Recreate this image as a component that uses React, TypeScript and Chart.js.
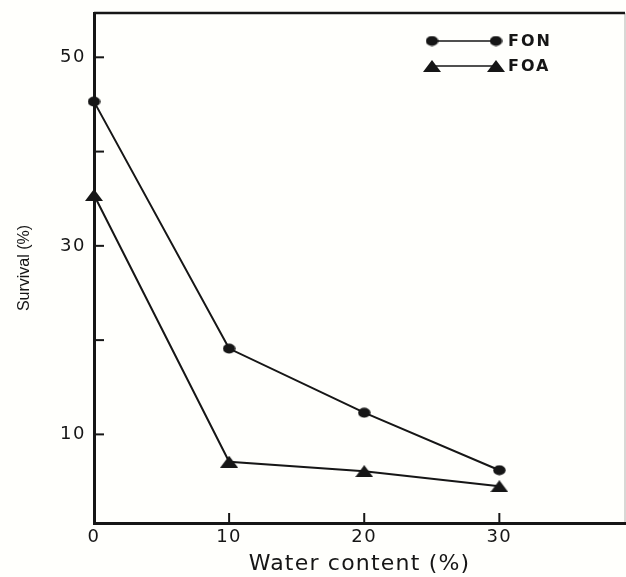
import React, { useEffect, useRef } from "react";
import { Chart, registerables } from "chart.js";

Chart.register(...registerables);

const waterContent = [0, 10, 20, 30];
const fonSurvival = [45.3, 19.1, 12.3, 6.2];
const foaSurvival = [35.4, 7.1, 6.1, 4.5];
const xTickValues = [0, 10, 20, 30];
const yTickValues = [10, 20, 30, 40, 50];
const yLabelledTicks = [10, 30, 50];
const seriesNames = ["FON", "FOA"];

const INK = "#161616";
const FONT = "'DejaVu Sans', 'Liberation Sans', Arial, sans-serif";

function makeEllipse(): HTMLCanvasElement {
  const c = document.createElement("canvas");
  c.width = 13;
  c.height = 11;
  const g = c.getContext("2d")!;
  g.fillStyle = INK;
  g.beginPath();
  g.ellipse(6.5, 5.5, 6.2, 5.0, 0, 0, Math.PI * 2);
  g.fill();
  return c;
}

function makeTriangle(): HTMLCanvasElement {
  const c = document.createElement("canvas");
  c.width = 18;
  c.height = 12;
  const g = c.getContext("2d")!;
  g.fillStyle = INK;
  g.beginPath();
  g.moveTo(9, 0);
  g.lineTo(18, 12);
  g.lineTo(0, 12);
  g.closePath();
  g.fill();
  return c;
}

const wideText = {
  id: "wideText",
  afterUpdate(chart: any) {
    const ctx = chart.ctx;
    ["x", "y"].forEach((id) => {
      const s = chart.scales[id];
      if (!s || s.__wrapped) return;
      const origLabels = s.drawLabels.bind(s);
      s.drawLabels = (area: any) => {
        ctx.save();
        (ctx as any).letterSpacing = "1.5px";
        origLabels(area);
        ctx.restore();
      };
      if (id === "x") {
        const origTitle = s.drawTitle.bind(s);
        s.drawTitle = () => {
          ctx.save();
          (ctx as any).letterSpacing = "1.2px";
          origTitle();
          ctx.restore();
        };
      }
      s.__wrapped = true;
    });
  },
};

const inwardTicks = {
  id: "inwardTicks",
  afterDraw(chart: any) {
    const { ctx, chartArea, scales } = chart;
    ctx.save();
    ctx.strokeStyle = INK;
    ctx.lineWidth = 2;
    yTickValues.forEach((v) => {
      const y = scales.y.getPixelForValue(v);
      ctx.beginPath();
      ctx.moveTo(chartArea.left, y);
      ctx.lineTo(chartArea.left + 10, y);
      ctx.stroke();
    });
    xTickValues.forEach((v) => {
      if (v === 0) return;
      const x = scales.x.getPixelForValue(v);
      ctx.beginPath();
      ctx.moveTo(x, chartArea.bottom);
      ctx.lineTo(x, chartArea.bottom - 10);
      ctx.stroke();
    });
    ctx.lineWidth = 2.5;
    ctx.beginPath();
    ctx.moveTo(chartArea.left, chartArea.top);
    ctx.lineTo(chartArea.right, chartArea.top);
    ctx.stroke();
    ctx.strokeStyle = "rgba(40,40,40,0.3)";
    ctx.lineWidth = 1.2;
    ctx.beginPath();
    ctx.moveTo(chartArea.right, chartArea.top);
    ctx.lineTo(chartArea.right, chartArea.bottom);
    ctx.stroke();
    ctx.restore();
  },
};

function makeLegend(markers: HTMLCanvasElement[]) {
  return {
    id: "customLegend",
    afterDraw(chart: any) {
      const { ctx } = chart;
      ctx.save();
      const rowsY = [41, 66];
      rowsY.forEach((y, i) => {
        const x1 = 432;
        const x2 = 496;
        ctx.strokeStyle = INK;
        ctx.fillStyle = INK;
        ctx.lineWidth = 1.6;
        ctx.beginPath();
        ctx.moveTo(x1, y);
        ctx.lineTo(x2, y);
        ctx.stroke();
        const m = markers[i];
        [x1, x2].forEach((x) => {
          ctx.drawImage(m, x - m.width / 2, y - m.height / 2);
        });
        ctx.font = "bold 16px " + FONT;
        (ctx as any).letterSpacing = "2px";
        ctx.textBaseline = "middle";
        ctx.textAlign = "left";
        ctx.fillText(seriesNames[i], 508, y + 1);
      });
      ctx.restore();
    },
  };
}

export default function App() {
  const canvasRef = useRef<HTMLCanvasElement | null>(null);

  useEffect(() => {
    document.body.style.margin = "0";
    document.body.style.background = "#fffffc";
    if (!canvasRef.current) return;
    const ellipse = makeEllipse();
    const triangle = makeTriangle();
    const chart = new Chart(canvasRef.current, {
      type: "line",
      data: {
        datasets: [
          {
            label: seriesNames[0],
            data: waterContent.map((x, i) => ({ x, y: fonSurvival[i] })),
            borderColor: INK,
            backgroundColor: INK,
            borderWidth: 2,
            pointStyle: ellipse as any,
            pointRadius: 6,
            tension: 0,
          },
          {
            label: seriesNames[1],
            data: waterContent.map((x, i) => ({ x, y: foaSurvival[i] })),
            borderColor: INK,
            backgroundColor: INK,
            borderWidth: 2,
            pointStyle: triangle as any,
            pointRadius: 8,
            tension: 0,
          },
        ],
      },
      options: {
        responsive: false,
        animation: false,
        clip: false,
        layout: { autoPadding: false, padding: { top: 13, right: 1, left: 0, bottom: 0 } },
        plugins: {
          legend: { display: false },
          tooltip: { enabled: false },
        },
        scales: {
          x: {
            type: "linear",
            min: 0,
            max: 39.3,
            afterBuildTicks: (scale: any) => {
              scale.ticks = xTickValues.map((value) => ({ value }));
            },
            afterFit: (scale: any) => {
              scale.height = 54;
              scale.paddingLeft = 0;
              scale.paddingRight = 0;
            },
            grid: { display: false, drawTicks: false },
            border: { display: true, color: INK, width: 3 },
            ticks: {
              color: INK,
              padding: 4,
              maxRotation: 0,
              font: { family: FONT, size: 18 },
            },
            title: {
              display: true,
              text: "Water content (%)",
              color: INK,
              padding: { top: 1, bottom: 0 },
              font: { family: FONT, size: 22 },
            },
          },
          y: {
            type: "linear",
            min: 0.6,
            max: 54.7,
            afterBuildTicks: (scale: any) => {
              scale.ticks = yTickValues.map((value) => ({ value }));
            },
            afterFit: (scale: any) => {
              scale.width = 94;
              scale.paddingTop = 0;
              scale.paddingBottom = 0;
            },
            grid: { display: false, drawTicks: false },
            border: { display: true, color: INK, width: 3 },
            ticks: {
              color: INK,
              padding: 8,
              callback: (v: any) => (yLabelledTicks.includes(Number(v)) ? String(v) : ""),
              font: { family: FONT, size: 18 },
            },
            title: {
              display: true,
              text: "Survival (%)",
              color: INK,
              padding: { top: 15, bottom: 0 },
              font: { family: "'Liberation Sans', Arial, sans-serif", size: 16 },
            },
          },
        },
      },
      plugins: [wideText, inwardTicks, makeLegend([ellipse, triangle])],
    });
    return () => chart.destroy();
  }, []);

  return <canvas ref={canvasRef} width={626} height={577} style={{ display: "block" }} />;
}
